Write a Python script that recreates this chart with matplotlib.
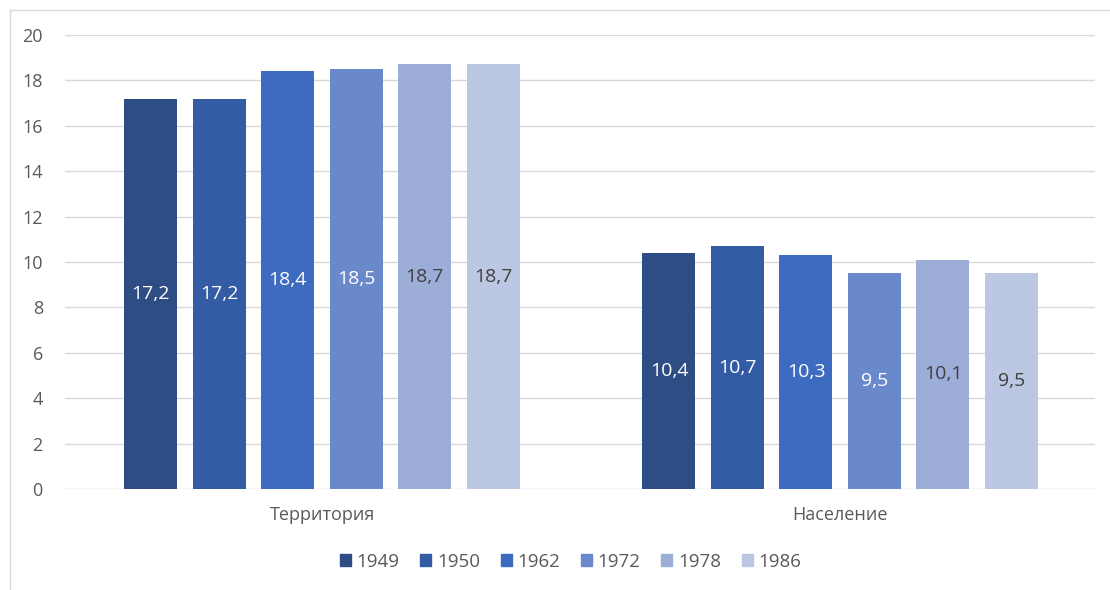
import numpy as np
import matplotlib.pyplot as plt
from matplotlib.lines import Line2D

categories = ['Территория', 'Население']
years = ['1949', '1950', '1962', '1972', '1978', '1986']
values = {
    '1949': [17.2, 10.4],
    '1950': [17.2, 10.7],
    '1962': [18.4, 10.3],
    '1972': [18.5, 9.5],
    '1978': [18.7, 10.1],
    '1986': [18.7, 9.5],
}
colors = ['#2F4D85', '#335CA5', '#3C6BC0', '#6A89CA', '#9CAED8', '#BCC7E3']
label_colors = ['white', 'white', 'white', 'white', '#404040', '#404040']

plt.rcParams['font.family'] = ['Open Sans', 'DejaVu Sans']

fig = plt.figure(figsize=(11.10, 5.90), dpi=100)
ax = fig.add_axes([0.0586, 0.1712, 0.928, 0.7695])

x = np.arange(len(categories))
slot = 0.1322
width = 0.1023
for i, yr in enumerate(years):
    pos = x + (i - 2.5) * slot
    bars = ax.bar(pos, values[yr], width=width, color=colors[i], label=yr, zorder=3)
    for b, v in zip(bars, values[yr]):
        ax.text(b.get_x() + b.get_width() / 2, v / 2, str(v).replace('.', ','),
                ha='center', va='center', fontsize=14, color=label_colors[i], zorder=4)

ax.set_xlim(-0.496, 1.492)
ax.set_ylim(0, 20)
ax.set_yticks(range(0, 21, 2))
ax.set_xticks(x)
ax.set_xticklabels(categories)
ax.grid(axis='y', color='#D9D9D9', linewidth=1, zorder=0)
for s in ax.spines.values():
    s.set_visible(False)
ax.tick_params(axis='both', length=0, labelsize=13, colors='#595959')
ax.tick_params(axis='y', pad=16)
ax.tick_params(axis='x', pad=12)

handles = [plt.Rectangle((0, 0), 1, 1, color=c) for c in colors]
fig.legend(handles, years, loc='center', bbox_to_anchor=(0.514, 0.0475), ncol=6,
           frameon=False, fontsize=13.5, handlelength=0.6, handleheight=0.6,
           handletextpad=0.3, columnspacing=1.1, labelcolor='#595959')

# chart frame (top and left edges)
fig.add_artist(Line2D([10 / 1110, 10 / 1110], [0, 1 - 10 / 590], color='#D9D9D9',
                      linewidth=1, transform=fig.transFigure))
fig.add_artist(Line2D([10 / 1110, 1], [1 - 10 / 590, 1 - 10 / 590], color='#D9D9D9',
                      linewidth=1, transform=fig.transFigure))

fig.savefig('out.png', dpi=100)
